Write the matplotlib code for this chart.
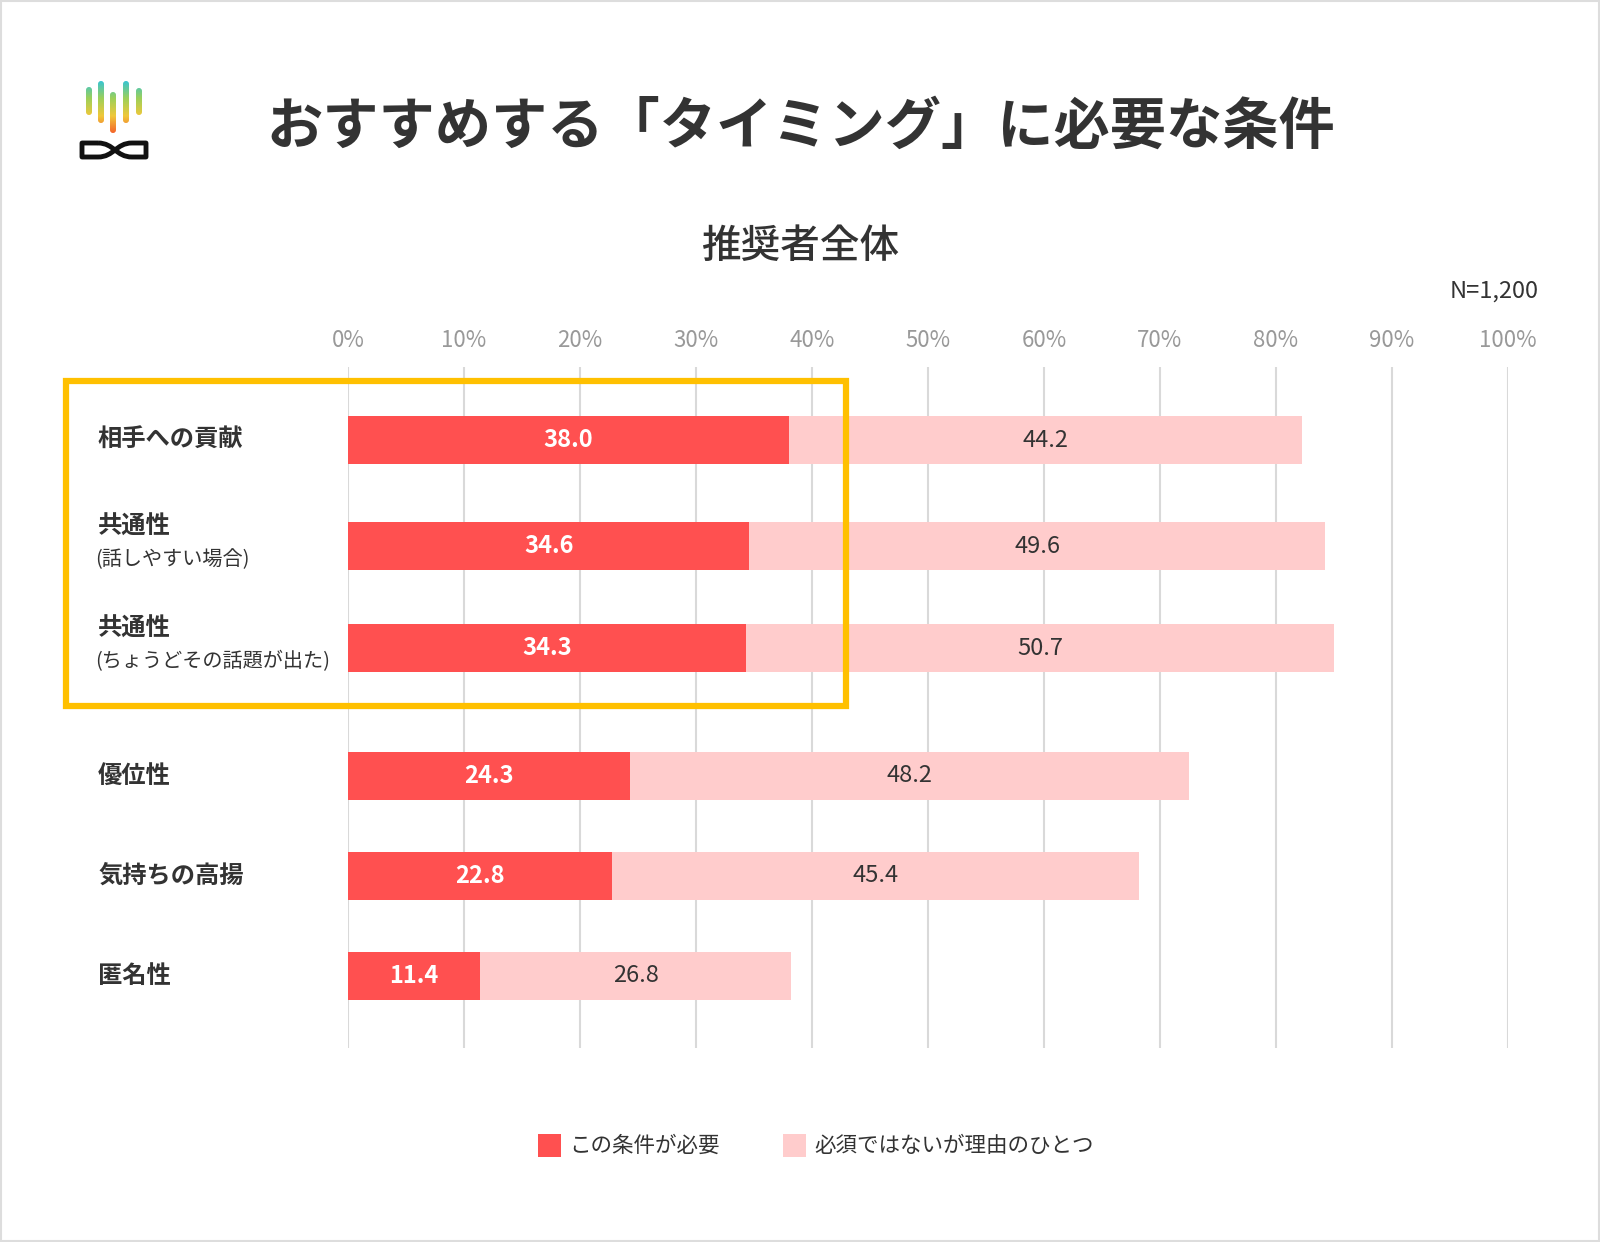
import numpy as np
import matplotlib
matplotlib.use("Agg")
import matplotlib.pyplot as plt
from matplotlib.patches import Rectangle, FancyBboxPatch, PathPatch
from matplotlib.path import Path
from matplotlib.transforms import blended_transform_factory
from matplotlib.colors import LinearSegmentedColormap

plt.rcParams['font.family'] = ['Noto Sans CJK JP', 'DejaVu Sans']

# -------- DATA --------
categories = ["相手への貢献", "共通性", "共通性", "優位性", "気持ちの高揚", "匿名性"]
sublabels = ["", "(話しやすい場合)", "(ちょうどその話題が出た)", "", "", ""]
required = [38.0, 34.6, 34.3, 24.3, 22.8, 11.4]
one_reason = [44.2, 49.6, 50.7, 48.2, 45.4, 26.8]
series_names = ["この条件が必要", "必須ではないが理由のひとつ"]
xticks = [0, 10, 20, 30, 40, 50, 60, 70, 80, 90, 100]

TITLE = "おすすめする「タイミング」に必要な条件"
SUBTITLE = "推奨者全体"
N_TEXT = "N=1,200"

# -------- STYLE / LAYOUT --------
RED = "#FF5050"
PINK = "#FFCCCC"
GOLD = "#FFC000"
TXT = "#333333"
W, H = 1600, 1242
row_pos = [0, 1.04, 2.04, 3.29, 4.27, 5.25]   # row spacing (first three grouped)

fig = plt.figure(figsize=(W / 100, H / 100), dpi=100)
fig.patch.set_facecolor("white")

# main bar axes (pixel layout: x 348..1508, y 367..1048)
ax = fig.add_axes([348 / W, 1 - 1048 / H, 1160 / W, 681 / H])
ypos = np.array(row_pos)
bar_h = 0.47

ax.barh(ypos, required, height=bar_h, color=RED, zorder=3)
ax.barh(ypos, one_reason, left=required, height=bar_h, color=PINK, zorder=3)

for y, a, b in zip(ypos, required, one_reason):
    ax.text(a / 2, y, f"{a:.1f}", ha="center", va="center", color="white",
            fontsize=17, fontweight="bold", zorder=4)
    ax.text(a + b / 2, y, f"{b:.1f}", ha="center", va="center", color=TXT,
            fontsize=17, zorder=4)

ax.set_xlim(0, 100)
ax.set_ylim(5.96, -0.716)
ax.set_xticks(xticks)
ax.set_xticklabels([f"{t}%" for t in xticks], color="#999999", fontsize=16)
ax.xaxis.tick_top()
ax.tick_params(axis="x", length=0, pad=11)
ax.set_yticks([])
ax.grid(axis="x", color="#D9D9D9", linewidth=1.5, zorder=0)
for s in ax.spines.values():
    s.set_visible(False)

# category labels
lab_tr = blended_transform_factory(fig.transFigure, ax.transData)
for y, cat, sub in zip(ypos, categories, sublabels):
    if sub:
        ax.text(98 / W, y - 0.19, cat, transform=lab_tr, ha="left", va="center",
                fontsize=17.5, fontweight="bold", color=TXT)
        ax.text(95 / W, y + 0.13, sub, transform=lab_tr, ha="left", va="center",
                fontsize=14.5, color=TXT)
    else:
        ax.text(98 / W, y, cat, transform=lab_tr, ha="left", va="center",
                fontsize=17.5, fontweight="bold", color=TXT)

# -------- OVERLAY (pixel coords) --------
ov = fig.add_axes([0, 0, 1, 1], facecolor="none")
ov.set_xlim(0, W)
ov.set_ylim(H, 0)
ov.axis("off")

# border
ov.add_patch(Rectangle((1, 1), W - 2, H - 2, fill=False, ec="#DDDDDD", lw=1.5))

# highlight box
ov.add_patch(Rectangle((66, 381), 780, 325, fill=False, ec=GOLD, lw=4.5))

# titles
ov.text(801, 127, TITLE, ha="center", va="center", fontsize=40.5,
        fontweight="bold", color=TXT)
ov.text(800, 247, SUBTITLE, ha="center", va="center", fontsize=28.5,
        fontweight="medium", color=TXT)
ov.text(1539, 291, N_TEXT, ha="right", va="center", fontsize=17, color=TXT)

# legend
for x0, col, name in [(538, RED, series_names[0]), (783, PINK, series_names[1])]:
    ov.add_patch(Rectangle((x0, 1134), 23, 23, color=col, lw=0))
    ov.text(x0 + 31, 1146, name, ha="left", va="center", fontsize=15.5, color=TXT)

# -------- LOGO --------
cmap = LinearSegmentedColormap.from_list("logo", ["#33C4D8", "#9CD05A", "#F0C83A", "#F5602A"])
grad = np.linspace(0, 1, 100).reshape(-1, 1)
logo_bars = [(89, 87, 115), (101, 81, 123), (113, 92, 133), (126, 81, 123), (139, 88, 115)]
for cx, top, bot in logo_bars:
    patch = FancyBboxPatch((cx - 3, top), 6, bot - top,
                           boxstyle="round,pad=0,rounding_size=3",
                           fc="none", ec="none")
    ov.add_patch(patch)
    im = ov.imshow(grad, cmap=cmap, extent=(cx - 4, cx + 4, 134, 80),
                   aspect="auto", zorder=2)
    im.set_clip_path(patch)

verts = [(98, 143), (82, 143), (82, 157), (98, 157),
         (114, 157), (116, 143), (132, 143),
         (146, 143), (146, 157), (132, 157),
         (116, 157), (114, 143), (98, 143)]
codes = [Path.MOVETO, Path.LINETO, Path.LINETO, Path.LINETO,
         Path.CURVE4, Path.CURVE4, Path.CURVE4,
         Path.LINETO, Path.LINETO, Path.LINETO,
         Path.CURVE4, Path.CURVE4, Path.CURVE4]
ov.add_patch(PathPatch(Path(verts, codes), fc="none", ec="#111111", lw=3.5,
                       joinstyle="round"))

fig.savefig("out.png", dpi=100)
